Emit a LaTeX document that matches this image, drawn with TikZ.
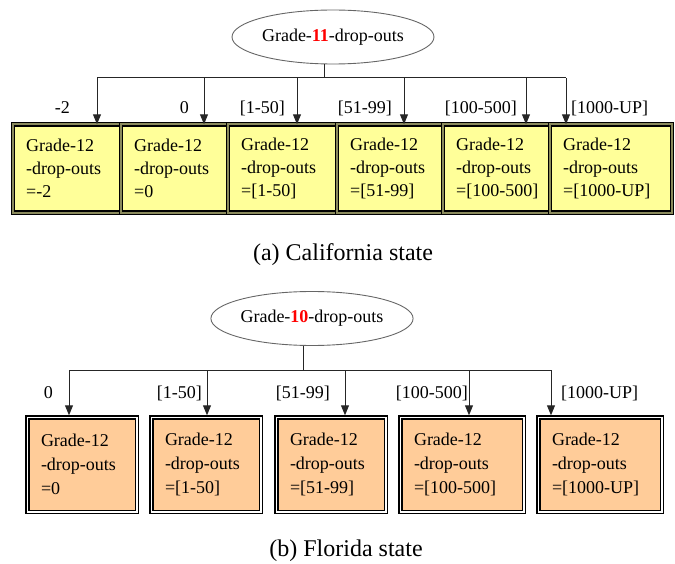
\documentclass[tikz,border=0pt]{standalone}
\usepackage{fontspec}
\setmainfont{Liberation Serif}
\usetikzlibrary{shapes.geometric,arrows.meta,calc}

\definecolor{boxyellow}{HTML}{FFFF99}
\definecolor{boxkhaki}{HTML}{8A8A5C}
\definecolor{boxpeach}{HTML}{FFCC99}

\tikzset{
  root/.style={ellipse, draw=black!60, line width=0.9pt, inner sep=0pt,
    minimum width=202pt, minimum height=54pt, font=\fontsize{18}{22}\selectfont},
  ybox/.style={rectangle, draw=black, line width=1.4pt, double=boxkhaki,
    double distance=1.8pt, fill=boxyellow, inner sep=0pt, outer sep=0pt,
    minimum height=88.4pt},
  pbox/.style={rectangle, draw=black, line width=1.4pt, double=white,
    double distance=1.6pt, fill=boxpeach, inner sep=0pt, outer sep=0pt,
    minimum height=94.4pt},
  boxtext/.style={anchor=west, align=left, inner sep=0pt,
    font=\fontsize{18}{23}\selectfont},
  boxtextb/.style={boxtext, font=\fontsize{18}{24}\selectfont},
  elabel/.style={inner sep=0pt, font=\fontsize{18}{22}\selectfont},
  tree/.style={draw=black!85, line width=1pt},
  arr/.style={tree, -{Triangle[length=10pt,width=8pt]}},
  capt/.style={inner sep=0pt, font=\fontsize{24}{28}\selectfont}
}

\newcommand{\rednum}[1]{\textcolor{red}{\textbf{#1}}}

\begin{document}
\begin{tikzpicture}[x=1pt,y=-1pt]
\useasboundingbox (0,0) rectangle (675,564);

% ---------- (a) California ----------
\node[root] (ga) at (333,37) {Grade-\rednum{11}-drop-outs};

\node[ybox, minimum width=108pt] (a1) at (67,168.5) {};
\node[ybox, minimum width=107pt] (a2) at (174.5,168.5) {};
\node[ybox, minimum width=109pt] (a3) at (282.5,168.5) {};
\node[ybox, minimum width=106pt] (a4) at (390,168.5) {};
\node[ybox, minimum width=107pt] (a5) at (496.5,168.5) {};
\node[ybox, minimum width=122pt] (a6) at (611,168.5) {};

\node[boxtext] (a1t) at ($(a1.west)+(13,0)$) {Grade-12\\-drop-outs\\=-2};
\node[boxtext] (a2t) at ($(a2.west)+(13,0)$) {Grade-12\\-drop-outs\\=0};
\node[boxtext] (a3t) at ($(a3.west)+(13,0)$) {Grade-12\\-drop-outs\\=[1-50]};
\node[boxtext] (a4t) at ($(a4.west)+(13,0)$) {Grade-12\\-drop-outs\\=[51-99]};
\node[boxtext] (a5t) at ($(a5.west)+(13,0)$) {Grade-12\\-drop-outs\\=[100-500]};
\node[boxtext] (a6t) at ($(a6.west)+(13,0)$) {Grade-12\\-drop-outs\\=[1000-UP]};

% branching lines
\coordinate (as) at (324,78);
\coordinate (ah1) at (97,78);
\coordinate (ah2) at (204,78);
\coordinate (ah3) at (297,78);
\coordinate (ah4) at (404,78);
\coordinate (ah5) at (526,78);
\coordinate (ah6) at (566,78);
\draw[tree] (ga.south -| as) -- (as);
\draw[tree] (ah1) -- (ah6);
\draw[arr] (ah1) -- (a1.north -| ah1);
\draw[arr] (ah2) -- (a2.north -| ah2);
\draw[arr] (ah3) -- (a3.north -| ah3);
\draw[arr] (ah4) -- (a4.north -| ah4);
\draw[arr] (ah5) -- (a5.north -| ah5);
\draw[arr] (ah6) -- (a6.north -| ah6);

\node[elabel, anchor=base east] (al1) at (70,114) {-2};
\node[elabel, anchor=base east] (al2) at (189,114) {0};
\node[elabel, anchor=base east] (al3) at (285,114) {[1-50]};
\node[elabel, anchor=base east] (al4) at (392,114) {[51-99]};
\node[elabel, anchor=base east] (al5) at (517,114) {[100-500]};
\node[elabel, anchor=base west] (al6) at (571,114) {[1000-UP]};

\node[capt] (capa) at (343,255) {(a) California state};

% ---------- (b) Florida ----------
\node[root] (gb) at (312,318.5) {Grade-\rednum{10}-drop-outs};

\node[pbox, minimum width=109.4pt] (b1) at (82,464.5) {};
\node[pbox, minimum width=109.4pt] (b2) at (206,464.5) {};
\node[pbox, minimum width=109.4pt] (b3) at (331,464.5) {};
\node[pbox, minimum width=123.4pt] (b4) at (462,464.5) {};
\node[pbox, minimum width=123.4pt] (b5) at (600,464.5) {};

\node[boxtextb] (b1t) at ($(b1.west)+(13.5,0)$) {Grade-12\\-drop-outs\\=0};
\node[boxtextb] (b2t) at ($(b2.west)+(13.5,0)$) {Grade-12\\-drop-outs\\=[1-50]};
\node[boxtextb] (b3t) at ($(b3.west)+(13.5,0)$) {Grade-12\\-drop-outs\\=[51-99]};
\node[boxtextb] (b4t) at ($(b4.west)+(13.5,0)$) {Grade-12\\-drop-outs\\=[100-500]};
\node[boxtextb] (b5t) at ($(b5.west)+(13.5,0)$) {Grade-12\\-drop-outs\\=[1000-UP]};

\coordinate (bs) at (303,370);
\coordinate (bh1) at (69,370);
\coordinate (bh2) at (207,370);
\coordinate (bh3) at (345,370);
\coordinate (bh4) at (469,370);
\coordinate (bh5) at (551,370);
\draw[tree] (gb.south -| bs) -- (bs);
\draw[tree] (bh1) -- (bh5);
\draw[arr] (bh1) -- ($(b1.north -| bh1)+(0,-2)$);
\draw[arr] (bh2) -- ($(b2.north -| bh2)+(0,-2)$);
\draw[arr] (bh3) -- ($(b3.north -| bh3)+(0,-2)$);
\draw[arr] (bh4) -- ($(b4.north -| bh4)+(0,-2)$);
\draw[arr] (bh5) -- ($(b5.north -| bh5)+(0,-2)$);

\node[elabel, anchor=base east] (bl1) at (53,398) {0};
\node[elabel, anchor=base east] (bl2) at (202,398) {[1-50]};
\node[elabel, anchor=base east] (bl3) at (330,398) {[51-99]};
\node[elabel, anchor=base east] (bl4) at (468,398) {[100-500]};
\node[elabel, anchor=base west] (bl5) at (561,398) {[1000-UP]};

\node[capt] (capb) at (346,551) {(b) Florida state};
\end{tikzpicture}
\end{document}
